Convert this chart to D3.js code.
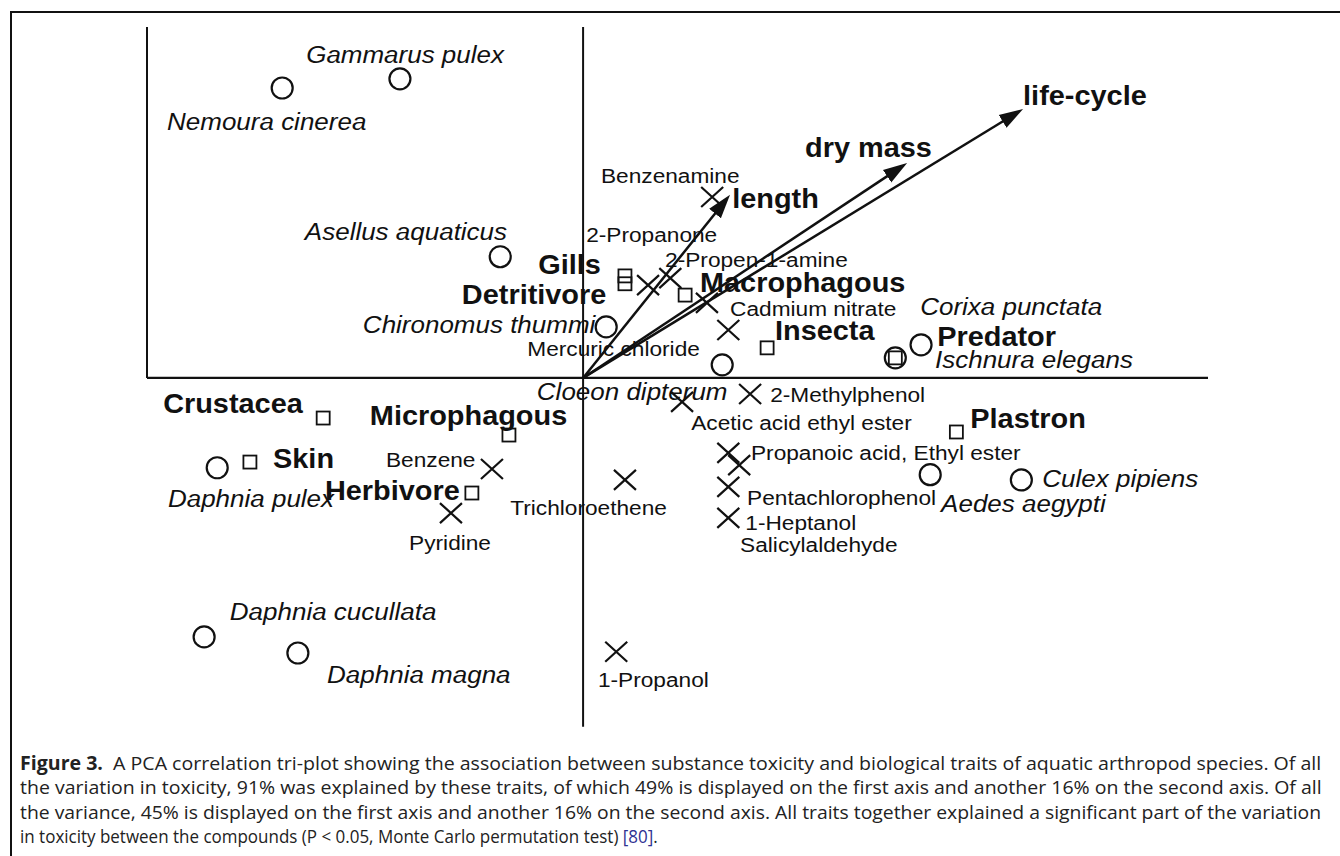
<!DOCTYPE html>
<html>
<head>
<meta charset="utf-8">
<script src="https://cdn.jsdelivr.net/npm/d3@7"></script>
<style>
  body { margin: 0; background: #fff; }
  .lab { font-family: Arial, "Liberation Sans", sans-serif; fill: #111; }
  .sp { font-style: italic; font-size: 23px; }
  .tr, .vec { font-weight: bold; font-size: 27px; }
  .cp { font-size: 21px; }
  .cap { font-family: "Liberation Sans Narrow", "Open Sans", sans-serif; font-size: 19px; fill: #222; }
</style>
</head>
<body>
<script>

// species scores (circles) with label anchor, PCA units
var speciesPoints = [
  { "name": "Gammarus pulex",    "x": -0.420, "y": 0.686, "lx": -0.635, "ly": 0.722 },
  { "name": "Nemoura cinerea",   "x": -0.690, "y": 0.665, "lx": -0.954, "ly": 0.569 },
  { "name": "Asellus aquaticus", "x": -0.190, "y": 0.278, "lx": -0.638, "ly": 0.317 },
  { "name": "Chironomus thummi", "x": 0.053,  "y": 0.117, "lx": -0.505, "ly": 0.103 },
  { "name": "Cloeon dipterum",   "x": 0.319,  "y": 0.030, "lx": -0.106, "ly": -0.050 },
  { "name": "Corixa punctata",   "x": 0.775,  "y": 0.076, "lx": 0.773,  "ly": 0.144 },
  { "name": "Ischnura elegans",  "x": 0.716,  "y": 0.046, "lx": 0.807,  "ly": 0.023 },
  { "name": "Aedes aegypti",     "x": 0.796,  "y": -0.222, "lx": 0.821, "ly": -0.307 },
  { "name": "Culex pipiens",     "x": 1.005,  "y": -0.234, "lx": 1.053, "ly": -0.250 },
  { "name": "Daphnia pulex",     "x": -0.839, "y": -0.206, "lx": -0.952, "ly": -0.296 },
  { "name": "Daphnia cucullata", "x": -0.869, "y": -0.594, "lx": -0.810, "ly": -0.555 },
  { "name": "Daphnia magna",     "x": -0.654, "y": -0.631, "lx": -0.587, "ly": -0.700 }
];

// categorical traits (squares)
var traitPoints = [
  { "name": "Gills",        "x": 0.096,  "y": 0.234,  "lx": -0.103, "ly": 0.239 },
  { "name": "Detritivore",  "x": 0.096,  "y": 0.216,  "lx": -0.278, "ly": 0.170 },
  { "name": "Macrophagous", "x": 0.234,  "y": 0.190,  "lx": 0.268,  "ly": 0.197 },
  { "name": "Insecta",      "x": 0.422,  "y": 0.069,  "lx": 0.440,  "ly": 0.087 },
  { "name": "Predator",     "x": 0.716,  "y": 0.046,  "lx": 0.812,  "ly": 0.073 },
  { "name": "Plastron",     "x": 0.856,  "y": -0.124, "lx": 0.888,  "ly": -0.115 },
  { "name": "Crustacea",    "x": -0.596, "y": -0.092, "lx": -0.963, "ly": -0.080 },
  { "name": "Microphagous", "x": -0.170, "y": -0.131, "lx": -0.489, "ly": -0.108 },
  { "name": "Skin",         "x": -0.764, "y": -0.193, "lx": -0.711, "ly": -0.206 },
  { "name": "Herbivore",    "x": -0.255, "y": -0.264, "lx": -0.592, "ly": -0.280 }
];

// continuous traits (arrows)
var traitVectors = [
  { "name": "length",     "x": 0.337, "y": 0.420, "lx": 0.342, "ly": 0.390 },
  { "name": "dry mass",   "x": 0.743, "y": 0.493, "lx": 0.509, "ly": 0.507 },
  { "name": "life-cycle", "x": 1.009, "y": 0.617, "lx": 1.009, "ly": 0.626 }
];

// compounds (crosses)
var compoundPoints = [
  { "name": "Benzenamine",                 "x": 0.296,  "y": 0.415,  "lx": 0.041,  "ly": 0.447 },
  { "name": "2-Propanone",                 "x": 0.149,  "y": 0.213,  "lx": 0.007,  "ly": 0.312 },
  { "name": "2-Propen-1-amine",            "x": 0.200,  "y": 0.229,  "lx": 0.188,  "ly": 0.255 },
  { "name": "Cadmium nitrate",             "x": 0.284,  "y": 0.172,  "lx": 0.337,  "ly": 0.142 },
  { "name": "Mercuric chloride",           "x": 0.333,  "y": 0.110,  "lx": -0.128, "ly": 0.050 },
  { "name": "2-Methylphenol",              "x": 0.383,  "y": -0.037, "lx": 0.429,  "ly": -0.055 },
  { "name": "Acetic acid ethyl ester",     "x": 0.227,  "y": -0.055, "lx": 0.248,  "ly": -0.119 },
  { "name": "Propanoic acid, Ethyl ester", "x": 0.333,  "y": -0.172, "lx": 0.385,  "ly": -0.188 },
  { "name": "Salicylaldehyde",             "x": 0.358,  "y": -0.200, "lx": 0.360,  "ly": -0.399 },
  { "name": "Pentachlorophenol",           "x": 0.333,  "y": -0.250, "lx": 0.376,  "ly": -0.291 },
  { "name": "1-Heptanol",                  "x": 0.333,  "y": -0.321, "lx": 0.372,  "ly": -0.349 },
  { "name": "Benzene",                     "x": -0.209, "y": -0.209, "lx": -0.452, "ly": -0.204 },
  { "name": "Pyridine",                    "x": -0.303, "y": -0.310, "lx": -0.399, "ly": -0.394 },
  { "name": "Trichloroethene",             "x": 0.096,  "y": -0.234, "lx": -0.167, "ly": -0.314 },
  { "name": "1-Propanol",                  "x": 0.076,  "y": -0.628, "lx": 0.034,  "ly": -0.709 }
];

var captionLines = [
  [["Figure 3.", "b"], ["  A PCA correlation tri-plot showing the association between substance toxicity and biological traits of aquatic arthropod species. Of all", ""]],
  [["the variation in toxicity, 91% was explained by these traits, of which 49% is displayed on the first axis and another 16% on the second axis. Of all", ""]],
  [["the variance, 45% is displayed on the first axis and another 16% on the second axis. All traits together explained a significant part of the variation", ""]],
  [["in toxicity between the compounds (P < 0.05, Monte Carlo permutation test) ", ""], ["[80]", "link"], [".", ""]]
];
var captionWidths = [1302, 1302, 1302, 638];

var svg = d3.select("body").append("svg")
            .attr("width", 1340)
            .attr("height", 856);

var x = d3.scaleLinear().domain([-1, 1.433]).range([147, 1208]);
var y = d3.scaleLinear().domain([-0.803, 0.821]).range([728, 20]);

// outer frame (top and left only)
svg.append("path").attr("d", "M11,856V12H1340")
   .attr("fill", "none").attr("stroke", "#111").attr("stroke-width", 2);

// axes
svg.append("line")
   .attr("x1", x(-1)).attr("x2", x(-1)).attr("y1", y(0.805)).attr("y2", y(0))
   .attr("stroke", "#111").attr("stroke-width", 2);
svg.append("line")
   .attr("x1", x(-1)).attr("x2", x(1.433)).attr("y1", y(0)).attr("y2", y(0))
   .attr("stroke", "#111").attr("stroke-width", 2.4);
svg.append("line")
   .attr("x1", x(0)).attr("x2", x(0)).attr("y1", y(0.805)).attr("y2", y(-0.8))
   .attr("stroke", "#111").attr("stroke-width", 2);

// labels
function addLabels(data, cls, sx) {
  svg.selectAll("text.lab." + cls)
     .data(data)
     .enter()
     .append("text")
     .attr("class", "lab " + cls)
     .attr("transform", function (d) { return "translate(" + x(d.lx) + "," + y(d.ly) + ") scale(" + sx + ",1)"; })
     .text(function (d) { return d.name; });
}
addLabels(speciesPoints, "sp", 1.13);
addLabels(traitPoints, "tr", 1.07);
addLabels(traitVectors, "vec", 1.07);
addLabels(compoundPoints, "cp", 1.08);

// arrowhead
svg.append("defs").append("marker")
   .attr("id", "head")
   .attr("markerUnits", "userSpaceOnUse")
   .attr("markerWidth", 26).attr("markerHeight", 20)
   .attr("viewBox", "0 -10 26 20")
   .attr("refX", 12).attr("refY", 0)
   .attr("orient", "auto")
   .append("path").attr("d", "M0,-7.5L24,0L0,7.5Z").attr("fill", "#111");

svg.selectAll("line.arrow")
   .data(traitVectors)
   .enter()
   .append("line")
   .attr("class", "arrow")
   .attr("x1", x(0)).attr("y1", y(0))
   .attr("x2", function (d) {
     var dx = x(d.x) - x(0), dy = y(d.y) - y(0), l = Math.sqrt(dx * dx + dy * dy);
     return x(d.x) - dx / l * 12;
   })
   .attr("y2", function (d) {
     var dx = x(d.x) - x(0), dy = y(d.y) - y(0), l = Math.sqrt(dx * dx + dy * dy);
     return y(d.y) - dy / l * 12;
   })
   .attr("stroke", "#111").attr("stroke-width", 2.5)
   .attr("marker-end", "url(#head)");

// species circles
svg.selectAll("circle.sp")
   .data(speciesPoints)
   .enter()
   .append("circle")
   .attr("class", "sp")
   .attr("cx", function (d) { return x(d.x); })
   .attr("cy", function (d) { return y(d.y); })
   .attr("r", 10.5)
   .attr("fill", "none").attr("stroke", "#111").attr("stroke-width", 2.2);

// trait squares
svg.selectAll("rect.tr")
   .data(traitPoints)
   .enter()
   .append("rect")
   .attr("class", "tr")
   .attr("x", function (d) { return x(d.x) - 6.5; })
   .attr("y", function (d) { return y(d.y) - 6.5; })
   .attr("width", 13).attr("height", 13)
   .attr("fill", "none").attr("stroke", "#111").attr("stroke-width", 1.8);

// compound crosses
svg.selectAll("path.cp")
   .data(compoundPoints)
   .enter()
   .append("path")
   .attr("class", "cp")
   .attr("d", function (d) {
     var cx = x(d.x), cy = y(d.y);
     return "M" + (cx - 11) + "," + (cy - 10) + "L" + (cx + 11) + "," + (cy + 10) +
            "M" + (cx + 11) + "," + (cy - 10) + "L" + (cx - 11) + "," + (cy + 10);
   })
   .attr("fill", "none").attr("stroke", "#111").attr("stroke-width", 2.2);

// caption: squeeze each line horizontally to the width it has in the figure
var cap = svg.selectAll("text.cap")
   .data(captionLines)
   .enter()
   .append("text")
   .attr("class", "cap")
   .attr("xml:space", "preserve");

cap.selectAll("tspan")
   .data(function (d) { return d; })
   .enter()
   .append("tspan")
   .attr("font-weight", function (d) { return d[1] == "b" ? "bold" : null; })
   .attr("fill", function (d) { return d[1] == "link" ? "#2e3192" : null; })
   .text(function (d) { return d[0]; });

cap.attr("transform", function (d, i) {
  var w = this.getComputedTextLength();
  return "translate(20," + (770 + i * 24.4) + ") scale(" + (captionWidths[i] / w) + ",1)";
});

</script>
</body>
</html>
